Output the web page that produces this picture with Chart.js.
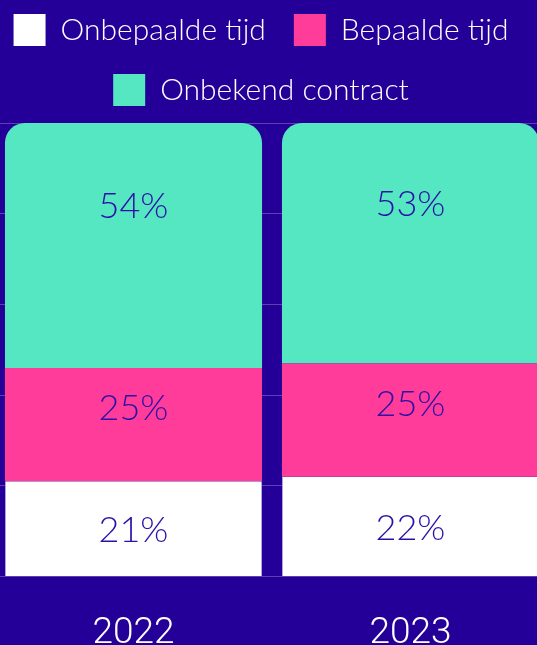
<!DOCTYPE html>
<html>
<head>
<meta charset="utf-8">
<script src="https://cdn.jsdelivr.net/npm/chart.js@4.4.0/dist/chart.umd.min.js"></script>
<style>
  html, body { margin: 0; padding: 0; background: #240099; overflow: hidden; width: 537px; height: 645px; }
  #wrap { position: absolute; left: -5px; top: 0; width: 554px; height: 660px; }
</style>
</head>
<body>
<div id="wrap"><canvas id="c" width="554" height="660"></canvas></div>
<script>
const categories = ['2022', '2023'];
const seriesNames = ['Onbepaalde tijd', 'Bepaalde tijd', 'Onbekend contract'];
const onbepaalde = [21, 22];
const bepaalde = [25, 25];
const onbekend = [54, 53];
const yTicks = [0, 20, 40, 60, 80, 100];

const LABEL_COLOR = '#2a10a6';

const labelPlugin = {
  id: 'segLabels',
  afterDatasetsDraw(chart) {
    const ctx = chart.ctx;
    ctx.save();
    ctx.font = '300 36px Lato, "Open Sans", sans-serif';
    ctx.fillStyle = LABEL_COLOR;
    ctx.textAlign = 'center';
    ctx.textBaseline = 'middle';
    chart.data.datasets.forEach((ds, di) => {
      const meta = chart.getDatasetMeta(di);
      const frac = ds.labelFrac;
      meta.data.forEach((bar, i) => {
        const top = Math.min(bar.y, bar.base);
        const h = Math.abs(bar.base - bar.y);
        ctx.fillText(ds.data[i] + '%', bar.x, top + frac * h);
      });
    });
    ctx.restore();
  }
};

const legendSpacing = {
  id: 'legendSpacing',
  beforeInit(chart) {
    const origFit = chart.legend.fit;
    chart.legend.fit = function () {
      origFit.call(this);
      this.height += 7;
    };
  },
  afterLayout(chart) {
    chart.legend.left -= 11;
    chart.legend.right -= 11;
  }
};

new Chart(document.getElementById('c'), {
  type: 'bar',
  data: {
    labels: categories,
    datasets: [
      { label: seriesNames[0], data: onbepaalde, backgroundColor: '#ffffff',
        borderColor: '#aea4e2', borderWidth: {left: 1, right: 1, top: 0, bottom: 0}, borderSkipped: false,
        labelFrac: 0.52 },
      { label: seriesNames[1], data: bepaalde, backgroundColor: '#ff3c99', borderWidth: 0,
        labelFrac: 0.36 },
      { label: seriesNames[2], data: onbekend, backgroundColor: '#55e7c2', borderWidth: 0,
        borderRadius: {topLeft: 20, topRight: 20, bottomLeft: 0, bottomRight: 0}, borderSkipped: false,
        labelFrac: 0.34 }
    ]
  },
  options: {
    responsive: false,
    devicePixelRatio: 1,
    animation: false,
    layout: { padding: { top: -14, bottom: -23, left: 0, right: 0 } },
    datasets: { bar: { barPercentage: 0.928, categoryPercentage: 1 } },
    plugins: {
      tooltip: { enabled: false },
      legend: {
        position: 'top',
        labels: {
          color: '#ffffff',
          boxWidth: 32,
          boxHeight: 32,
          padding: 28,
          font: { family: 'Lato, "Open Sans", sans-serif', size: 30, weight: '300' },
          generateLabels(chart) {
            const items = Chart.defaults.plugins.legend.labels.generateLabels(chart);
            items.forEach(it => { it.lineWidth = 0; it.strokeStyle = 'rgba(0,0,0,0)'; });
            return items;
          }
        }
      }
    },
    scales: {
      x: {
        stacked: true,
        grid: { display: false },
        border: { display: false },
        ticks: { color: '#ffffff', padding: 27, font: { family: 'Roboto, sans-serif', size: 37, weight: '300' } }
      },
      y: {
        stacked: true,
        min: 0, max: 100,
        afterBuildTicks(axis) { axis.ticks = yTicks.map(v => ({ value: v })); },
        grid: { color: 'rgba(255,255,255,0.25)', drawTicks: false, lineWidth: 1 },
        border: { display: false },
        ticks: { display: false }
      }
    }
  },
  plugins: [labelPlugin, legendSpacing]
});
</script>
</body>
</html>
